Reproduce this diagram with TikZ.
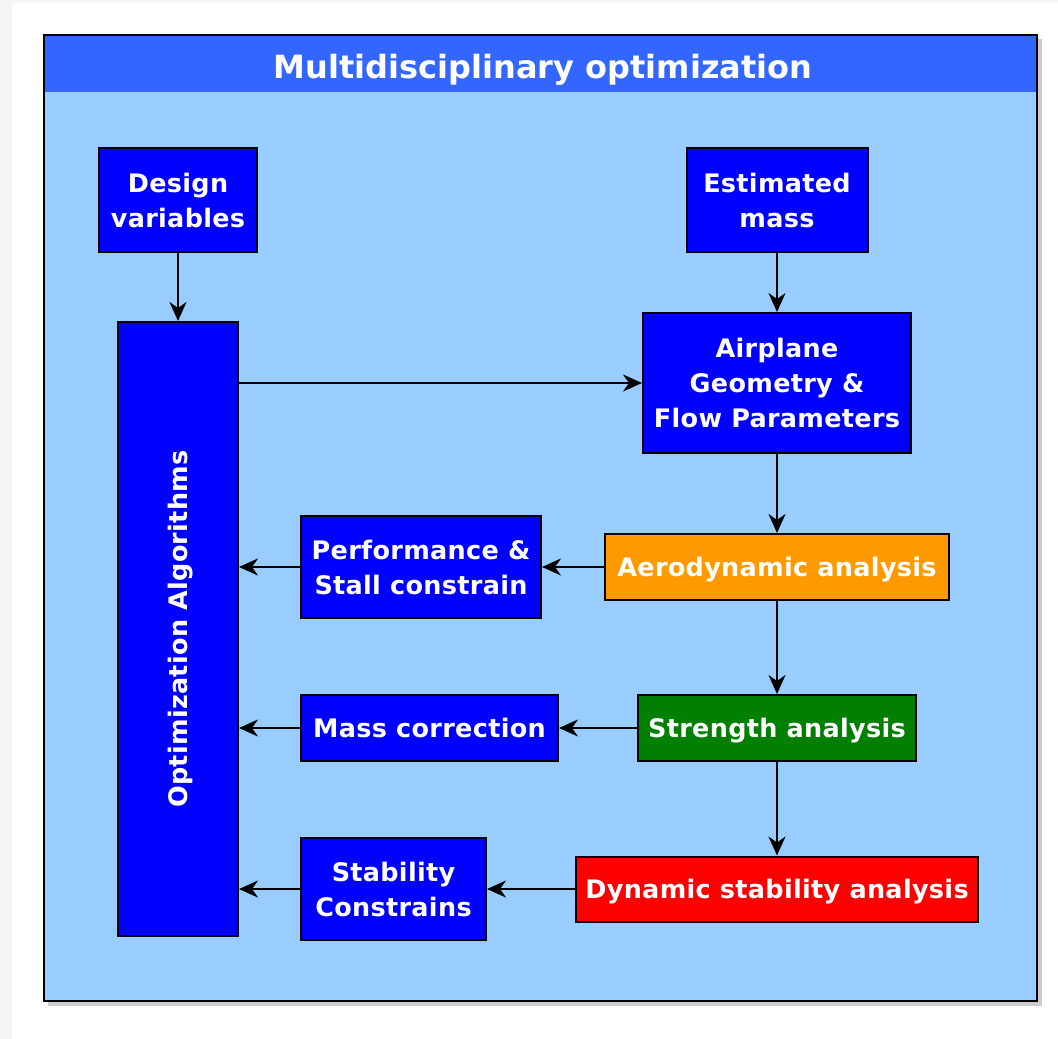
\documentclass[tikz,border=0pt]{standalone}
\usepackage{fontspec}
\setmainfont{DejaVu Sans}[LetterSpace=1.2]
\newfontfamily\titlefont{DejaVu Sans}
\usetikzlibrary{arrows.meta}

\definecolor{titleblue}{HTML}{3366FF}
\definecolor{paneblue}{HTML}{99CCFF}
\definecolor{boxblue}{HTML}{0000FF}
\definecolor{aeroorange}{HTML}{FF9900}
\definecolor{strengthgreen}{HTML}{007F00}
\definecolor{stabred}{HTML}{FF0000}

\begin{document}
\begin{tikzpicture}[x=1pt, y=-1pt,
        blockbox/.style={draw=black, line width=2pt, fill=boxblue, text=white,
            align=center, inner sep=0pt,
            font=\fontsize{25.5}{35}\selectfont\bfseries},
        oneline/.style={blockbox, text depth=0pt},
        >={Stealth[length=19pt, width=17pt, inset=6pt]}]
        \useasboundingbox (0,0) rectangle (1058,1039);
        \fill[black!4] (0,0) rectangle (1058,1039);
        \fill[white] (12,3) rectangle (1058,1039);
        
        % container
        \fill[black!20] (48,39) rectangle (1042,1006);
        \fill[paneblue] (44,35) rectangle (1037,1001);
        \fill[titleblue] (44,35) rectangle (1037,92);
        \draw[black, line width=2pt] (44,35) rectangle (1037,1001);
        \node[anchor=base, text=white, font=\titlefont\fontsize{32}{38}\selectfont\bfseries] (title) at (543,78) {Multidisciplinary optimization};
        
        \node[blockbox, minimum width=158, minimum height=104] (design) at (178,200) {Design\\variables};
        \node[blockbox, minimum width=181, minimum height=104] (mass) at (777,200) {Estimated\\mass};
        \node[blockbox, minimum width=120, minimum height=614] (opt) at (178,629) {};
        \node[oneline, draw=none, fill=none, rotate=90] (optlabel) at (opt.center) {Optimization Algorithms};
        \node[blockbox, minimum width=268, minimum height=140] (geom) at (777,383) {Airplane\\Geometry \&\\Flow Parameters};
        \node[oneline, fill=aeroorange, minimum width=344, minimum height=66] (aero) at (777,567) {Aerodynamic analysis};
        \node[blockbox, minimum width=240, minimum height=102] (perf) at (421,567) {Performance \&\\Stall constrain};
        \node[oneline, fill=strengthgreen, minimum width=278, minimum height=66] (strength) at (777,728) {Strength analysis};
        \node[oneline, minimum width=257, minimum height=66] (masscorr) at (429.5,728) {Mass correction};
        \node[oneline, fill=stabred, minimum width=402, minimum height=65] (dyn) at (777,889) {Dynamic stability analysis};
        \node[blockbox, minimum width=185, minimum height=102] (stab) at (393.5,889) {Stability\\Constrains};
        
        \draw[->, line width=2pt] (design) -- (opt);
        \draw[->, line width=2pt] (mass) -- (geom);
        \draw[->, line width=2pt] (opt.east |- geom.west) -- (geom.west);
        \draw[->, line width=2pt] (geom) -- (aero);
        \draw[->, line width=2pt] (aero) -- (perf);
        \draw[->, line width=2pt] (perf.west) -- (perf.west -| opt.east);
        \draw[->, line width=2pt] (aero) -- (strength);
        \draw[->, line width=2pt] (strength) -- (masscorr);
        \draw[->, line width=2pt] (masscorr.west) -- (masscorr.west -| opt.east);
        \draw[->, line width=2pt] (strength) -- (dyn);
        \draw[->, line width=2pt] (dyn) -- (stab);
        \draw[->, line width=2pt] (stab.west) -- (stab.west -| opt.east);
    \end{tikzpicture}
\end{document}
